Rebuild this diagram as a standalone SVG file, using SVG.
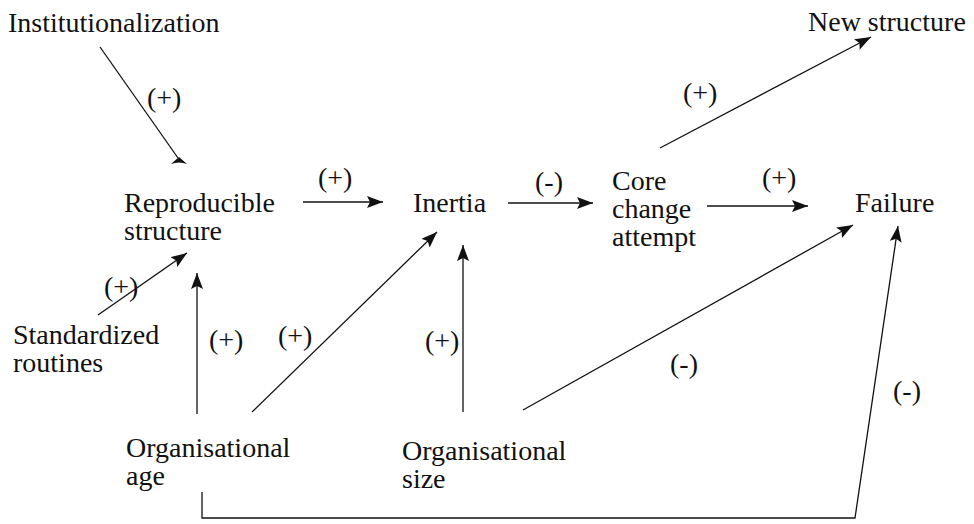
<svg xmlns="http://www.w3.org/2000/svg" width="974" height="524" viewBox="0 0 974 524">
<style>
text{font-family:'Liberation Serif','Times New Roman','DejaVu Serif',serif;font-size:28px;fill:#111}
.c{fill:none;stroke:#111;stroke-width:1.3}
</style>
<defs>
<marker id="ah" markerUnits="userSpaceOnUse" markerWidth="18" markerHeight="14" refX="16" refY="6" orient="auto">
<path d="M0,0 L16,6 L0,12 L3,6 Z" fill="#111"/>
</marker>
</defs>
<rect width="974" height="524" fill="#fff"/>
<g id="connectors" font-family="Liberation Serif, serif">
<line class="c" x1="100" y1="47" x2="178" y2="158"/>
<path d="M171,164 L179,157 L187,164 Q179,161 171,164 Z" fill="#111"/>
<line class="c" x1="303" y1="202" x2="383" y2="202" marker-end="url(#ah)"/>
<line class="c" x1="508" y1="203" x2="593" y2="203" marker-end="url(#ah)"/>
<line class="c" x1="707" y1="206" x2="808" y2="206" marker-end="url(#ah)"/>
<line class="c" x1="660" y1="148" x2="871" y2="37" marker-end="url(#ah)"/>
<line class="c" x1="98" y1="315" x2="187" y2="253" marker-end="url(#ah)"/>
<line class="c" x1="197" y1="414" x2="197" y2="273" marker-end="url(#ah)"/>
<line class="c" x1="252" y1="412" x2="437" y2="232" marker-end="url(#ah)"/>
<line class="c" x1="463" y1="412" x2="463" y2="245" marker-end="url(#ah)"/>
<line class="c" x1="523" y1="410" x2="853" y2="225" marker-end="url(#ah)"/>
<polyline class="c" points="202,492 202,518 855,518 898,226" marker-end="url(#ah)"/>
<text x="147" y="107">(+)</text>
<text x="683" y="102">(+)</text>
<text x="318" y="187">(+)</text>
<text x="535" y="191">(-)</text>
<text x="762" y="187">(+)</text>
<text x="104" y="296">(+)</text>
<text x="209" y="349">(+)</text>
<text x="278" y="345">(+)</text>
<text x="425" y="350">(+)</text>
<text x="670" y="373">(-)</text>
<text x="893" y="400">(-)</text>
</g>
<g id="institutionalization"><text x="8" y="32">Institutionalization</text></g>
<g id="new-structure"><text x="808" y="31">New structure</text></g>
<g id="reproducible-structure"><text x="124" y="212">Reproducible</text><text x="124" y="240">structure</text></g>
<g id="inertia"><text x="413" y="212">Inertia</text></g>
<g id="core-change-attempt"><text x="612" y="190">Core</text><text x="612" y="218">change</text><text x="612" y="246">attempt</text></g>
<g id="failure"><text x="855" y="212">Failure</text></g>
<g id="standardized-routines"><text x="13" y="344">Standardized</text><text x="13" y="372">routines</text></g>
<g id="organisational-age"><text x="126" y="457">Organisational</text><text x="126" y="485">age</text></g>
<g id="organisational-size"><text x="402" y="460">Organisational</text><text x="402" y="488">size</text></g>
</svg>
